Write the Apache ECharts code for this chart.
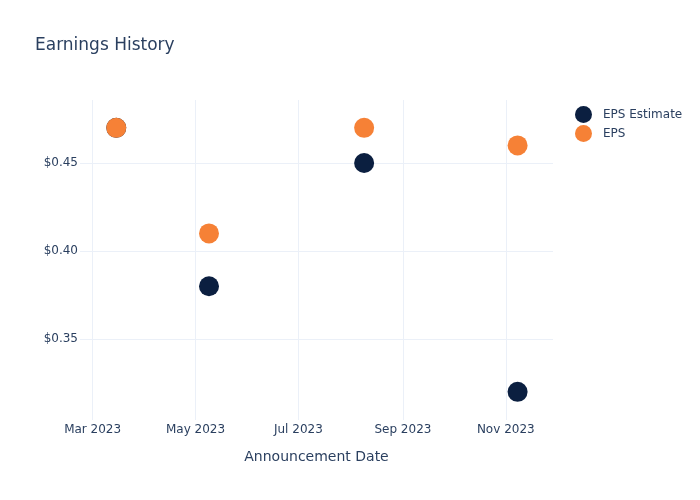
<!DOCTYPE html>
<html>
<head>
<meta charset="utf-8">
<script src="https://cdn.jsdelivr.net/npm/echarts@6/dist/echarts.min.js"></script>
<style>html,body{margin:0;padding:0;background:#fff}#c{width:700px;height:500px}</style>
</head>
<body>
<div id="c"></div>
<script>
const dates = ['2023-03-15', '2023-05-09', '2023-08-09', '2023-11-08'];
const epsEstimate = [0.47, 0.38, 0.45, 0.32];
const eps = [0.47, 0.41, 0.47, 0.46];
const xTickDates = ['2023-03-01', '2023-05-01', '2023-07-01', '2023-09-01', '2023-11-01'];
const yTicks = [0.35, 0.40, 0.45];
const monthNames = ['Jan','Feb','Mar','Apr','May','Jun','Jul','Aug','Sep','Oct','Nov','Dec'];

function ts(s) { const p = s.split('-').map(Number); return Date.UTC(p[0], p[1]-1, p[2]); }
const font = 'DejaVu Sans';
const txt = '#2a3f5f';
const chart = echarts.init(document.getElementById('c'), null, {renderer: 'canvas'});
chart.setOption({
  animation: false,
  backgroundColor: '#fff',
  title: {
    text: 'Earnings History', left: 30, top: 32,
    textStyle: {fontFamily: font, fontSize: 17, fontWeight: 'normal', color: txt}
  },
  legend: {
    orient: 'vertical', left: 570, top: 101, itemGap: 2,
    itemWidth: 17, itemHeight: 17, icon: 'circle',
    textStyle: {fontFamily: font, fontSize: 12, color: txt, padding: [0, 0, 0, 6]},
    data: ['EPS Estimate', 'EPS']
  },
  grid: {left: 80, right: 147, top: 100, bottom: 80, containLabel: false},
  xAxis: {
    type: 'value',
    min: ts('2023-02-21') + 12*3600e3,
    max: ts('2023-11-29'),
    name: 'Announcement Date', nameLocation: 'middle', nameGap: 30,
    nameTextStyle: {fontFamily: font, fontSize: 14, color: txt},
    axisLine: {show: false},
    axisTick: {show: false, customValues: xTickDates.map(ts)},
    axisLabel: {
      customValues: xTickDates.map(ts), margin: 4,
      fontFamily: font, fontSize: 12, color: txt,
      formatter: v => { const d = new Date(v); return monthNames[d.getUTCMonth()] + ' ' + d.getUTCFullYear(); }
    },
    splitLine: {show: true, lineStyle: {color: '#ebf0f8', width: 1}}
  },
  yAxis: {
    type: 'value',
    min: 0.304, max: 0.4858,
    axisLine: {show: false},
    axisTick: {show: false, customValues: yTicks},
    axisLabel: {
      customValues: yTicks, margin: 2,
      fontFamily: font, fontSize: 12, color: txt,
      formatter: v => '$' + v.toFixed(2)
    },
    splitLine: {show: true, lineStyle: {color: '#ebf0f8', width: 1}}
  },
  series: [
    {
      name: 'EPS Estimate', type: 'scatter', symbolSize: 20,
      itemStyle: {color: '#0b1f40', opacity: 1},
      data: dates.map((d, i) => [ts(d), epsEstimate[i]])
    },
    {
      name: 'EPS', type: 'scatter', symbolSize: 20,
      itemStyle: {color: '#f68136', opacity: 1},
      data: dates.map((d, i) => [ts(d), eps[i]])
    }
  ]
});
</script>
</body>
</html>
